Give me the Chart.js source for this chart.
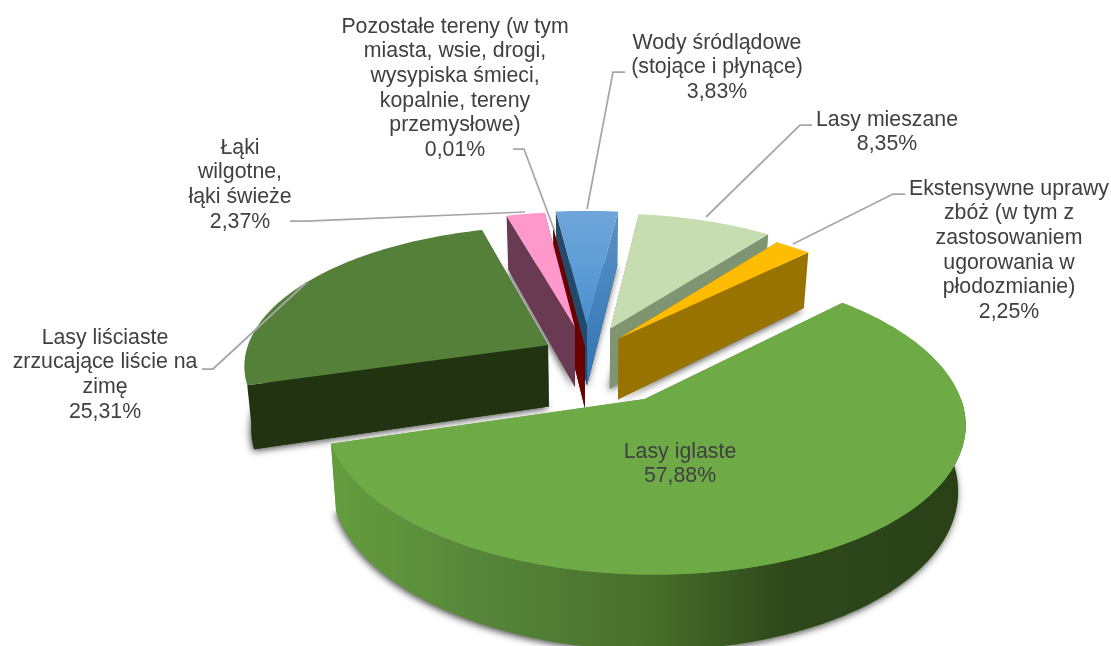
<!DOCTYPE html>
<html lang="pl">
<head>
<meta charset="utf-8">
<style>html,body{margin:0;padding:0;background:#fff}canvas{display:block}</style>
<script src="https://cdn.jsdelivr.net/npm/chart.js@4/dist/chart.umd.min.js"></script>
</head>
<body>
<canvas id="c" width="1111" height="646"></canvas>
<script>
// ---- data ----
const categories = ["Wody śródlądowe (stojące i płynące)","Lasy mieszane","Ekstensywne uprawy zbóż (w tym z zastosowaniem ugorowania w płodozmianie)","Lasy iglaste","Lasy liściaste zrzucające liście na zimę","Łąki wilgotne, łąki świeże","Pozostałe tereny (w tym miasta, wsie, drogi, wysypiska śmieci, kopalnie, tereny przemysłowe)"];
const values = [3.83, 8.35, 2.25, 57.88, 25.31, 2.37, 0.01];
const labelLines = [
  ["Wody śródlądowe","(stojące i płynące)"],
  ["Lasy mieszane"],
  ["Ekstensywne uprawy","zbóż (w tym z","zastosowaniem","ugorowania w","płodozmianie)"],
  ["Lasy iglaste"],
  ["Lasy liściaste","zrzucające liście na","zimę"],
  ["Łąki","wilgotne,","łąki świeże"],
  ["Pozostałe tereny (w tym","miasta, wsie, drogi,","wysypiska śmieci,","kopalnie, tereny","przemysłowe)"]
];
// ---- styling and layout ----
const topColors = ["#5B9BD5","#C5DDB0","#FFBC00","#6EAB47","#54803A","#FF99CC","#7A0000"];
const offsets = [67, 64, 49, 108, 45, 65, 18];
const labelCenters = [[717,43],[887,120],[1009,189],[680,452],[105,338],[240,148],[455,27]];
const leaders = [
  [[625,72],[613,72],[587,209]],
  [[812,125],[800,125],[706,217]],
  [[905,194],[893,194],[793,244]],
  null,
  [[202,369],[213,369],[307,282]],
  [[290,221],[306,221],[525,212]],
  [[513,149],[524,149],[555,232]]
];
const drawOrder = [0,6,5,1,2,4,3];
const startWall = ["#244A6B","#7F9571","#997300","#6E9F45","#213311","#693A52","#6B0000"];
const endWall   = [null,"#7F9571","#997300","#6E9F45","#213311","#693A52","#6B0000"];
const outerWall = ["#4A85B8","#7F9571","#997300",null,"","#693A52","#6B0000"];

const D = 2200, K = 0.455, H = 62, BX = 0.98, LINE = 24.6, RADIUS = 303;

function proj(cx, cy, X, Y, d) {
  const s = 1 / (1 - Y / D);
  return [cx + X * s * (d ? BX : 1), cy + K * Y * s + d * s];
}
function poly(ctx, pts, fill) {
  ctx.beginPath();
  pts.forEach((p, i) => i ? ctx.lineTo(p[0], p[1]) : ctx.moveTo(p[0], p[1]));
  ctx.closePath();
  ctx.fillStyle = fill;
  ctx.fill();
}
function drawSlice(ctx, el, i) {
  const off = el.options.offset || 0;
  const a0 = el.startAngle, a1 = el.endAngle, mid = (a0 + a1) / 2, r = el.outerRadius;
  const ox = Math.cos(mid) * off, oy = Math.sin(mid) * off;
  const steps = Math.max(2, Math.ceil((a1 - a0) / 0.02));
  const world = [];
  for (let n = 0; n <= steps; n++) {
    const a = a0 + (a1 - a0) * n / steps;
    world.push([ox + Math.cos(a) * r, oy + Math.sin(a) * r, a]);
  }
  const P = (w, d) => proj(el.x, el.y, w[0], w[1], d);
  const apex = [ox, oy];
  const topArc = world.map(w => P(w, 0));
  const botArc = world.map(w => P(w, H));
  const first = world[0], last = world[world.length - 1];

  // soft shadow under the slice
  ctx.save();
  ctx.shadowColor = "rgba(0,0,0,0.7)";
  ctx.shadowBlur = 7;
  ctx.shadowOffsetX = -1;
  ctx.shadowOffsetY = 2;
  poly(ctx, [P(apex, H), ...botArc], startWall[i]);
  ctx.restore();

  // radial walls
  poly(ctx, [P(apex, 0), P(first, 0), P(first, H), P(apex, H)], startWall[i]);
  let endFill = endWall[i];
  if (!endFill) {
    const g = ctx.createLinearGradient(0, P(last, 0)[1], 0, P(apex, H)[1]);
    g.addColorStop(0, "#5C90C4");
    g.addColorStop(1, "#2E75B6");
    endFill = g;
  }
  poly(ctx, [P(apex, 0), P(last, 0), P(last, H), P(apex, H)], endFill);

  // outer rim, one continuous band over the part that faces the viewer
  let rim = outerWall[i];
  if (rim === null) {
    const g = ctx.createLinearGradient(335, 0, 960, 0);
    g.addColorStop(0, "#659C3E");
    g.addColorStop(0.25, "#55843A");
    g.addColorStop(0.5, "#4A6F2B");
    g.addColorStop(0.72, "#2E481B");
    g.addColorStop(1, "#2A4118");
    rim = g;
  }
  if (rim) {
    const vis = [];
    world.forEach((w, n) => { if (Math.sin(w[2]) > -0.02) vis.push(n); });
    if (vis.length > 1) {
      poly(ctx, [...vis.map(n => topArc[n]), ...vis.slice().reverse().map(n => botArc[n])], rim);
    }
  }
  // top face
  let topFill = topColors[i];
  if (i === 0) {
    const g = ctx.createLinearGradient(0, topArc[0][1], 0, P(apex, 0)[1]);
    g.addColorStop(0, "#6FA5DA");
    g.addColorStop(0.55, "#5B9BD5");
    g.addColorStop(1, "#4A8FCE");
    topFill = g;
  }
  poly(ctx, [P(apex, 0), ...topArc], topFill);
}

const pie3d = {
  id: "pie3d",
  beforeDatasetDraw(chart) {
    const ctx = chart.ctx;
    const arcs = chart.getDatasetMeta(0).data;
    ctx.save();
    drawOrder.forEach(i => drawSlice(ctx, arcs[i], i));
    ctx.restore();
    return false; // the projected slices replace the flat ones
  },
  afterDraw(chart) {
    const ctx = chart.ctx;
    ctx.save();
    ctx.strokeStyle = "#A6A6A6";
    ctx.lineWidth = 1.75;
    leaders.forEach(l => {
      if (!l) return;
      ctx.beginPath();
      l.forEach((p, n) => n ? ctx.lineTo(p[0], p[1]) : ctx.moveTo(p[0], p[1]));
      ctx.stroke();
    });
    ctx.fillStyle = "#404040";
    ctx.font = '21.3px "Liberation Sans", Arial, sans-serif';
    ctx.textAlign = "center";
    ctx.textBaseline = "middle";
    values.forEach((v, i) => {
      const lines = [...labelLines[i], v.toFixed(2).replace(".", ",") + "%"];
      lines.forEach((t, n) => ctx.fillText(t, labelCenters[i][0], labelCenters[i][1] + n * LINE));
    });
    ctx.restore();
  }
};

new Chart(document.getElementById("c"), {
  type: "pie",
  data: {
    labels: categories,
    datasets: [{ data: values, backgroundColor: topColors, offset: offsets, borderWidth: 0 }]
  },
  options: {
    responsive: false,
    animation: false,
    rotation: 353.1,
    radius: RADIUS,
    layout: { padding: { left: 63, top: 64, right: 0, bottom: 0 } },
    plugins: { legend: { display: false }, tooltip: { enabled: false } }
  },
  plugins: [pie3d]
});
</script>
</body>
</html>
